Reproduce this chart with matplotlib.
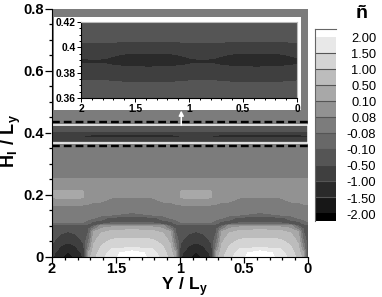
import matplotlib
matplotlib.use("Agg")
import matplotlib.pyplot as plt
import numpy as np
from matplotlib.colors import ListedColormap
from matplotlib.ticker import MultipleLocator, FixedLocator

W, H = 382, 297

# contour levels and the grey of each band, black to white
levels = [-2.0, -1.5, -1.0, -0.5, -0.1, -0.08, 0.08, 0.1, 0.5, 1.0, 1.5, 2.0]
level_labels = ["-2.00", "-1.50", "-1.00", "-0.50", "-0.10", "-0.08",
                "0.08", "0.10", "0.50", "1.00", "1.50", "2.00"]
band_colors = ["#000000", "#171717", "#2a2a2a", "#3f3f3f", "#555555", "#686868", "#7c7c7c",
               "#929292", "#a8a8a8", "#bcbcbc", "#d4d4d4", "#e8e8e8", "#ffffff"]

# pattern repeats once per unit of Y, lobe centres at these Y
lobe_centres = [2.875, 1.875, 0.875]
phases = [0, 0.06, 0.12, 0.16, 0.2, 0.26, 0.34, 0.5]   # lobe centre -> dome centre

low_h = [0.0, 0.012, 0.025, 0.04, 0.06, 0.08, 0.09, 0.10, 0.105, 0.112, 0.125, 0.135,
         0.15, 0.165, 0.175, 0.19, 0.20, 0.212, 0.22, 0.245, 0.255, 0.30, 0.364]
low_vals = [
    [-1.70, -1.40, -0.95, 0.30, 0.85, 1.30, 1.80, 2.60],
    [-1.55, -1.30, -0.88, 0.15, 0.75, 1.20, 1.70, 2.20],
    [-1.30, -1.10, -0.75, 0.08, 0.65, 1.10, 1.50, 1.60],
    [-1.05, -0.95, -0.55, -0.03, 0.50, 0.95, 1.25, 1.30],
    [-0.80, -0.68, -0.35, -0.09, 0.30, 0.75, 0.95, 1.00],
    [-0.52, -0.42, -0.20, -0.11, 0.10, 0.45, 0.60, 0.65],
    [-0.40, -0.30, -0.15, -0.11, 0.00, 0.15, 0.40, 0.45],
    [-0.15, -0.15, -0.12, -0.11, -0.10, 0.09, 0.09, 0.09],
    [-0.10, -0.10, -0.10, -0.12, -0.15, -0.15, -0.08, -0.08],
    [-0.06, -0.06, -0.07, -0.09, -0.20, -0.30, -0.30, -0.30],
    [-0.03, -0.03, -0.03, -0.04, -0.06, -0.09, -0.25, -0.30],
    [-0.02, -0.02, -0.02, -0.02, -0.03, -0.04, -0.07, -0.09],
    [-0.01, -0.01, -0.01, -0.01, -0.01, 0.00, 0.00, 0.00],
    [0.07, 0.075, 0.06, 0.04, 0.03, 0.02, 0.02, 0.02],
    [0.095, 0.095, 0.09, 0.085, 0.08, 0.07, 0.06, 0.05],
    [0.11, 0.11, 0.10, 0.095, 0.09, 0.09, 0.08, 0.08],
    [0.15, 0.15, 0.11, 0.095, 0.09, 0.09, 0.09, 0.09],
    [0.12, 0.12, 0.105, 0.095, 0.09, 0.09, 0.09, 0.09],
    [0.09, 0.09, 0.09, 0.09, 0.09, 0.09, 0.09, 0.09],
    [0.09, 0.09, 0.09, 0.09, 0.09, 0.09, 0.09, 0.09],
    [0.06, 0.06, 0.06, 0.06, 0.06, 0.06, 0.06, 0.06],
    [0.02, 0.02, 0.02, 0.02, 0.02, 0.02, 0.02, 0.02],
    [0.00, 0.00, 0.00, 0.00, 0.00, 0.00, 0.00, 0.00],
]

# the thin layer shown enlarged in the inset
layer_h = [0.36, 0.37, 0.38, 0.385, 0.389, 0.393, 0.40, 0.41, 0.42]
layer_vals = [
    [-0.20, -0.20, -0.20, -0.20, -0.20, -0.20, -0.20, -0.20],
    [-0.40, -0.40, -0.40, -0.40, -0.41, -0.41, -0.42, -0.42],
    [-0.72, -0.72, -0.73, -0.76, -0.78, -0.82, -0.84, -0.85],
    [-0.90, -0.90, -0.91, -0.94, -0.96, -0.99, -1.01, -1.02],
    [-1.08, -1.08, -1.11, -1.18, -1.24, -1.32, -1.38, -1.40],
    [-0.90, -0.90, -0.93, -0.98, -1.03, -1.09, -1.14, -1.15],
    [-0.65, -0.65, -0.65, -0.67, -0.68, -0.69, -0.70, -0.70],
    [-0.30, -0.30, -0.30, -0.30, -0.30, -0.30, -0.30, -0.30],
    [-0.20, -0.20, -0.20, -0.20, -0.20, -0.20, -0.20, -0.20],
]

up_h = [0.427, 0.43, 0.80]
up_vals = [-0.20, 0.00, 0.00]


def band_space(v):
    # contour in level index so the very narrow bands keep their width
    return np.interp(v, levels, np.arange(1, 13), left=0.5, right=12.9)


def full_period(half):
    half = np.asarray(half)
    return np.hstack([half, half[:, -2::-1]])


def tile(rows):
    return np.hstack([rows[:, :-1]] * len(lobe_centres) + [rows[:, -1:]])


phase_full = np.array(phases + [1 - p for p in phases[-2::-1]])
y_cols = np.concatenate([c - phase_full[:-1] for c in lobe_centres]
                        + [[lobe_centres[-1] - 1.0]])

low_full = full_period(low_vals)
layer_full = full_period(layer_vals)
up_full = np.tile(np.array(up_vals)[:, None], (1, low_full.shape[1]))

# main panel skips the .36 row, the layer starts right at the white frame
main_h = np.array(low_h + layer_h[1:] + up_h)
main_vals = np.vstack([low_full, layer_full[1:], up_full])

plt.rcParams["font.family"] = ["Liberation Sans", "DejaVu Sans"]
plt.rcParams["mathtext.fontset"] = "custom"
plt.rcParams["mathtext.bf"] = "Liberation Sans:bold"
plt.rcParams["mathtext.rm"] = "Liberation Sans:bold"

fig = plt.figure(figsize=(W / 100, H / 100), dpi=100)


def px_axes(x0, y0, x1, y1, **kw):
    return fig.add_axes([x0 / W, 1 - y1 / H, (x1 - x0) / W, (y1 - y0) / H], **kw)


cmap = ListedColormap(band_colors)
band_edges = np.arange(0, 14)

ax = px_axes(52, 9, 308, 256.7)
ax.contourf(y_cols, main_h, band_space(tile(main_vals)), levels=band_edges, colors=band_colors)
ax.set_xlim(2, 0)
ax.set_ylim(0, 0.8)
ax.xaxis.set_major_locator(FixedLocator([2, 1.5, 1, 0.5, 0]))
ax.set_xticklabels(["2", "1.5", "1", "0.5", "0"])
ax.xaxis.set_minor_locator(MultipleLocator(0.1))
ax.yaxis.set_major_locator(FixedLocator([0, 0.2, 0.4, 0.6, 0.8]))
ax.set_yticklabels(["0", "0.2", "0.4", "0.6", "0.8"])
ax.yaxis.set_minor_locator(MultipleLocator(0.05))
ax.tick_params(which="major", length=4.7, width=0.9, labelsize=10.5, pad=1)
ax.tick_params(which="minor", length=2.4, width=0.9)
ax.tick_params(axis="x", which="major", length=4, pad=0)
for lab in ax.get_xticklabels() + ax.get_yticklabels():
    lab.set_fontweight("bold")
for side in ["top", "right"]:
    ax.spines[side].set_visible(False)
fig.text(185 / W, 1 - 289.5 / H, r"$\mathbf{Y\ /\ L}_{\mathbf{y}}$", fontsize=12.5, ha="center", va="baseline")
fig.text(11 / W, 1 - 141 / H, r"$\mathbf{H}_{\mathbf{I}}\mathbf{\ /\ L}_{\mathbf{y}}$", fontsize=13,
         rotation=90, ha="center", va="center")

# white frame around the layer, dashed bounds, arrow up to the inset
ax.plot([2, 0, 0, 2, 2], [0.366, 0.366, 0.4255, 0.4255, 0.366], color="white", lw=1.1, clip_on=False)
for h in [0.356, 0.4363]:
    ax.plot([2, 0], [h, h], color="black", lw=1.7, dashes=(3.3, 1.7))
ax.annotate("", xy=(0.99, 0.472), xytext=(0.99, 0.4255),
            arrowprops=dict(arrowstyle="-|>", color="white", lw=1.1, mutation_scale=7, shrinkA=0, shrinkB=0))

# inset
back = px_axes(54, 17, 301, 110)
back.set_facecolor("white")
back.set_xticks([])
back.set_yticks([])
for s in back.spines.values():
    s.set_visible(False)

ins = px_axes(81, 22, 297, 98)
ins.contourf(y_cols, np.array(layer_h), band_space(tile(layer_full)), levels=band_edges, colors=band_colors)
ins.set_xlim(2, 0)
ins.set_ylim(0.36, 0.42)
ins.xaxis.set_major_locator(FixedLocator([2, 1.5, 1, 0.5, 0]))
ins.set_xticklabels(["2", "1.5", "1", "0.5", "0"])
ins.xaxis.set_minor_locator(MultipleLocator(0.1))
ins.yaxis.set_major_locator(FixedLocator([0.36, 0.38, 0.4, 0.42]))
ins.set_yticklabels(["0.36", "0.38", "0.4", "0.42"])
ins.yaxis.set_minor_locator(MultipleLocator(0.005))
ins.tick_params(which="major", length=3, width=0.7, labelsize=7.4, pad=1)
ins.tick_params(which="minor", length=1.6, width=0.7)
for lab in ins.get_xticklabels() + ins.get_yticklabels():
    lab.set_fontweight("bold")
for side in ["top", "right"]:
    ins.spines[side].set_color("#bbbbbb")
for side in ["left", "bottom"]:
    ins.spines[side].set_linewidth(0.8)

# colour bar, one equal slot per level
cax = px_axes(315, 29, 336, 221.5)
bar_edges = np.array([0.5] + list(range(1, 13)) + [12.5])
cax.pcolormesh([0, 1], bar_edges, np.arange(13)[:, None], cmap=cmap, vmin=-0.5, vmax=12.5)
cax.set_xlim(0, 1)
cax.set_ylim(0.5, 12.5)
cax.set_xticks([])
cax.set_yticks([])
for side in ["right", "bottom"]:
    cax.spines[side].set_visible(False)
for side in ["top", "left"]:
    cax.spines[side].set_color("#666666")
cax.hlines(np.arange(2, 12), 0, 1, color="#555555", lw=0.8)
for i, lab in enumerate(level_labels):
    cax.annotate(lab, (1, i + 1), xytext=(29, -1.5), textcoords="offset points",
                 ha="right", va="center", fontsize=9.3)

fig.text(362 / W, 1 - 14 / H, "ñ", fontsize=14, fontweight="bold", ha="center", va="center")

fig.savefig("out.png", dpi=100)
